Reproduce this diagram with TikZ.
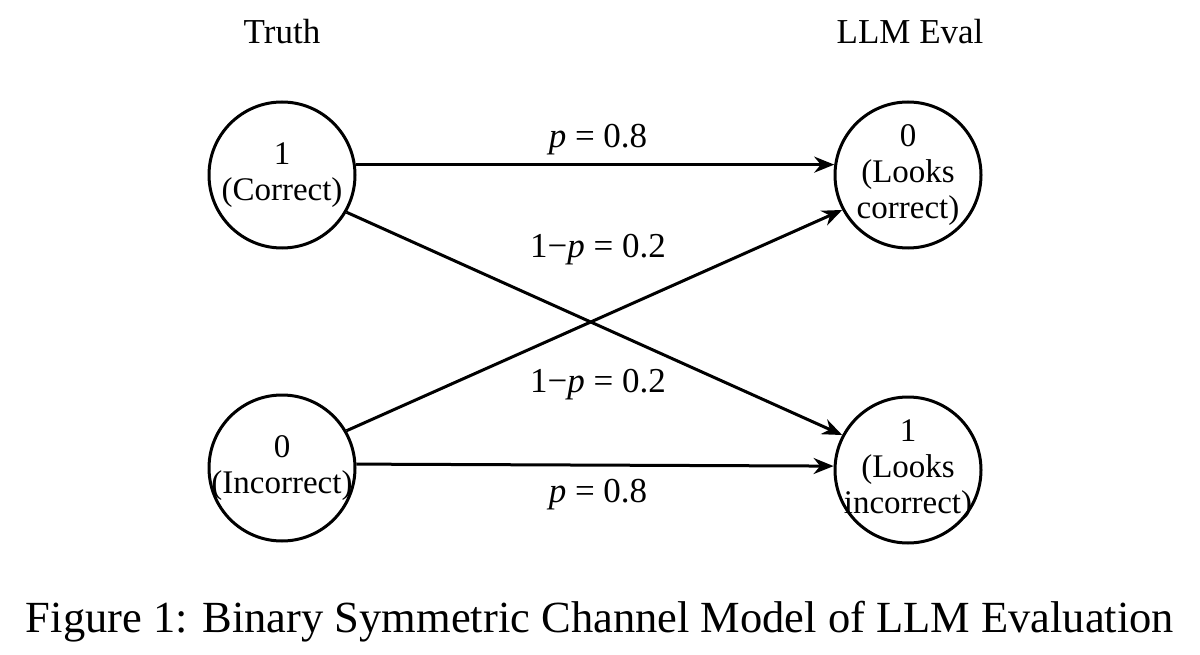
\documentclass[tikz,border=0pt]{standalone}
\usepackage{fontspec}
\setmainfont{Liberation Serif}
\usetikzlibrary{arrows.meta}
\newcommand{\pe}{\textit{p}\ =\ }
\begin{document}
\begin{tikzpicture}[x=1pt,y=-1pt,
  st/.style={circle,draw,line width=3pt,minimum size=146pt,inner sep=0pt},
  tx/.style={align=center,font=\fontsize{33}{36}\selectfont},
  lab/.style={font=\fontsize{35}{38}\selectfont},
  ar/.style={line width=3pt,-{Stealth[length=20pt,width=16pt]}}]
\useasboundingbox (0,0) rectangle (1200,655);
\node[lab] (h1) at (282,32) {Truth};
\node[lab] (h2) at (910,32) {LLM Eval};
\node[st] (t1) at (282,175) {};
\node[tx] (t1x) at (t1) {1\\(Correct)};
\node[st] (t0) at (282,468) {};
\node[tx] (t0x) at (t0) {0\\(Incorrect)};
\node[st] (e0) at (908,175) {};
\node[tx] (e0x) at (e0) {0\\(Looks\\correct)};
\node[st] (e1) at (908,470) {};
\node[tx] (e1x) at (e1) {1\\(Looks\\incorrect)};
\draw[ar] (t1.8) -- (e0.172);
\draw[ar] (t0.3) -- (e1.177);
\draw[ar] (t1.-30) -- (e1.152);
\draw[ar] (t0.30) -- (e0.-152);
\node[lab] (l1) at (598,140) {\pe 0.8};
\node[lab] (l2) at (598,250) {1−\pe 0.2};
\node[lab] (l3) at (598,385) {1−\pe 0.2};
\node[lab] (l4) at (598,495) {\pe 0.8};
\node[font=\fontsize{44.5}{46}\selectfont] (cap) at (600,622) {Figure 1: Binary Symmetric Channel Model of LLM Evaluation};
\end{tikzpicture}
\end{document}
